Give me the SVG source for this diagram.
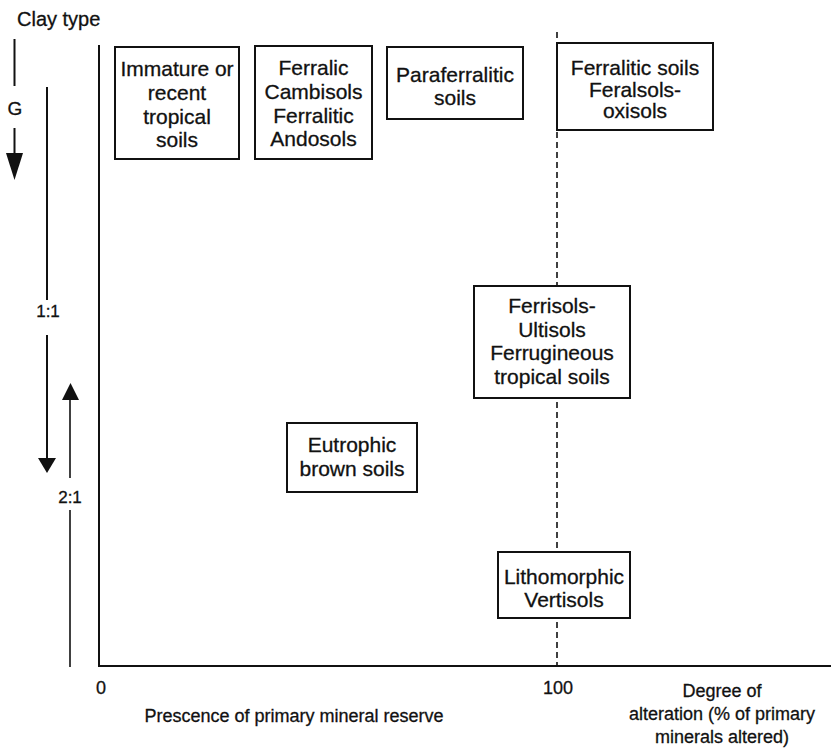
<svg xmlns="http://www.w3.org/2000/svg" width="831" height="753" viewBox="0 0 831 753">
<style>
text{font-family:"Liberation Sans",Arial,sans-serif;fill:#111;stroke:#111;stroke-width:0.3;}
.bt{font-size:21px;text-anchor:middle;}
.ax{font-size:18px;}
.box{fill:#fff;stroke:#111;stroke-width:2;}
.ln{stroke:#111;stroke-width:2;fill:none;}
</style>
<rect width="831" height="753" fill="#fff"/>

<g id="axes">
<line class="ln" x1="99" y1="45" x2="99" y2="667"/>
<line class="ln" x1="98" y1="666" x2="831" y2="666"/>
<line x1="557" y1="32" x2="557" y2="666" stroke="#111" stroke-width="1.6" stroke-dasharray="6 4"/>
<text class="ax" x="101" y="694" text-anchor="middle">0</text>
<text class="ax" x="558" y="694" text-anchor="middle">100</text>
<text class="ax" x="294" y="722" text-anchor="middle">Prescence of primary mineral reserve</text>
<text class="ax" x="722" y="697" text-anchor="middle">Degree of</text>
<text class="ax" x="722" y="720" text-anchor="middle">alteration (% of primary</text>
<text class="ax" x="722" y="743" text-anchor="middle">minerals altered)</text>
</g>

<g id="clay-type">
<text x="17" y="26" font-size="20">Clay type</text>
<line class="ln" x1="14.5" y1="39" x2="14.5" y2="86"/>
<text x="15" y="115" font-size="19" text-anchor="middle">G</text>
<line class="ln" x1="14.5" y1="128" x2="14.5" y2="155"/>
<path d="M6,153 L23,153 L14.5,180 z" fill="#111"/>
<line class="ln" x1="47" y1="87" x2="47" y2="300"/>
<text x="48" y="317" font-size="17" text-anchor="middle">1:1</text>
<line class="ln" x1="47" y1="335" x2="47" y2="460"/>
<path d="M38,458 L56,458 L47,473 z" fill="#111"/>
<line x1="70" y1="398" x2="70" y2="478" stroke="#111" stroke-width="1.6"/>
<path d="M62,400 L79,400 L70.5,383 z" fill="#111"/>
<text x="70" y="503" font-size="17" text-anchor="middle">2:1</text>
<line x1="70" y1="510" x2="70" y2="667" stroke="#111" stroke-width="1.6"/>
</g>

<g id="immature">
<rect class="box" x="115" y="47" width="124" height="112"/>
<text class="bt" x="177" y="76">Immature or</text>
<text class="bt" x="177" y="100">recent</text>
<text class="bt" x="177" y="124">tropical</text>
<text class="bt" x="177" y="147">soils</text>
</g>

<g id="ferralic">
<rect class="box" x="255" y="46" width="117" height="113"/>
<text class="bt" x="313.5" y="75">Ferralic</text>
<text class="bt" x="313.5" y="99">Cambisols</text>
<text class="bt" x="313.5" y="123">Ferralitic</text>
<text class="bt" x="313.5" y="146">Andosols</text>
</g>

<g id="paraferralitic">
<rect class="box" x="387" y="47" width="136" height="72"/>
<text class="bt" x="455" y="82">Paraferralitic</text>
<text class="bt" x="455" y="105">soils</text>
</g>

<g id="ferralitic">
<rect class="box" x="557" y="43" width="156" height="87"/>
<text class="bt" x="635" y="75">Ferralitic soils</text>
<text class="bt" x="635" y="97">Feralsols-</text>
<text class="bt" x="635" y="118">oxisols</text>
</g>

<g id="ferrisols">
<rect class="box" x="474" y="286" width="156" height="112"/>
<text class="bt" x="552" y="313">Ferrisols-</text>
<text class="bt" x="552" y="337">Ultisols</text>
<text class="bt" x="552" y="360">Ferrugineous</text>
<text class="bt" x="552" y="384">tropical soils</text>
</g>

<g id="eutrophic">
<rect class="box" x="287" y="423" width="130" height="69"/>
<text class="bt" x="352" y="452">Eutrophic</text>
<text class="bt" x="352" y="476">brown soils</text>
</g>

<g id="lithomorphic">
<rect class="box" x="498" y="552" width="132" height="66"/>
<text class="bt" x="564" y="584">Lithomorphic</text>
<text class="bt" x="564" y="607">Vertisols</text>
</g>
</svg>
